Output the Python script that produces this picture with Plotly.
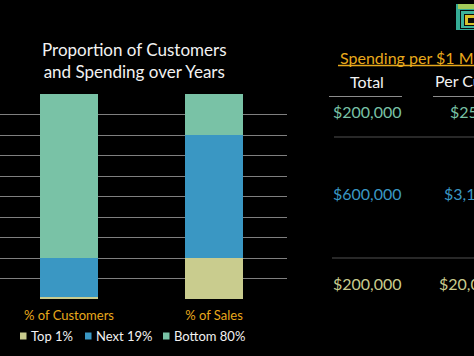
import plotly.graph_objects as go

categories = ["% of Customers", "% of Sales"]
series_names = ["Top 1%", "Next 19%", "Bottom 80%"]
top1 = [1, 20]
next19 = [19, 60]
bottom80 = [80, 20]
series_values = [top1, next19, bottom80]
colors = ["#C9CC8E", "#3A97C3", "#79C2A6"]

table_totals = ["$200,000", "$600,000", "$200,000"]
table_per_customer = ["$250", "$3,158", "$20,000"]
table_colors = ["#79C2A6", "#3A97C3", "#C9CC8E"]

W, H = 474, 356
L, R, T, B = 0, 187, 94, 57
PW, PH = W - L - R, H - T - B

def px(x):
    return (x - L) / PW

def py(y):
    return (H - B - y) / PH

FONT = "Lato, 'Open Sans', sans-serif"

fig = go.Figure()
for name, vals, col in zip(series_names, series_values, colors):
    fig.add_trace(go.Bar(x=categories, y=vals, name=name, marker_color=col,
                         marker_line_width=0, width=0.4, showlegend=False))

annotations = []
shapes = []

annotations.append(dict(text="Proportion of Customers<br>and Spending over Years",
                        x=px(134), y=py(60), xref="paper", yref="paper",
                        showarrow=False, font=dict(size=17, color="#F2F2F2", family=FONT),
                        xanchor="center", yanchor="middle", align="center"))

# legend (manual)
leg_x = [20, 85, 163]
for name, col, lx in zip(series_names, colors, leg_x):
    shapes.append(dict(type="rect", xref="paper", yref="paper",
                       x0=px(lx), x1=px(lx + 6.5), y0=py(339.5), y1=py(332.5),
                       fillcolor=col, line_width=0))
    annotations.append(dict(text=name, x=px(lx + 9), y=py(336), xref="paper", yref="paper",
                            showarrow=False, xanchor="left", yanchor="middle",
                            font=dict(size=13, color="#F2F2F2", family=FONT)))

# right-hand table
annotations.append(dict(text="Spending per $1 M", x=px(338), y=py(57), xref="paper", yref="paper",
                        showarrow=False, xanchor="left", yanchor="middle",
                        font=dict(size=16, color="#E8A91C", family=FONT)))
shapes.append(dict(type="line", xref="paper", yref="paper", x0=px(338), x1=px(480),
                   y0=py(65.5), y1=py(65.5), line=dict(color="#E8A91C", width=1.3)))
annotations.append(dict(text="Total", x=px(367), y=py(82), xref="paper", yref="paper",
                        showarrow=False, xanchor="center", yanchor="middle",
                        font=dict(size=16, color="#F2F2F2", family=FONT)))
annotations.append(dict(text="Per Customer", x=px(433), y=py(81), xref="paper", yref="paper",
                        showarrow=False, xanchor="left", yanchor="middle",
                        font=dict(size=16, color="#F2F2F2", family=FONT)))
shapes.append(dict(type="line", xref="paper", yref="paper", x0=px(329), x1=px(402),
                   y0=py(96.5), y1=py(96.5), line=dict(color="#8C8C8C", width=1)))
shapes.append(dict(type="line", xref="paper", yref="paper", x0=px(433), x1=px(480),
                   y0=py(96.5), y1=py(96.5), line=dict(color="#8C8C8C", width=1)))
shapes.append(dict(type="line", xref="paper", yref="paper", x0=px(334), x1=px(480),
                   y0=py(137), y1=py(137), line=dict(color="#505050", width=1)))
shapes.append(dict(type="line", xref="paper", yref="paper", x0=px(332), x1=px(480),
                   y0=py(258), y1=py(258), line=dict(color="#505050", width=1)))
row_y = [111, 193, 283]
for tot, per, col, ry in zip(table_totals, table_per_customer, table_colors, row_y):
    annotations.append(dict(text=tot, x=px(367), y=py(ry), xref="paper", yref="paper",
                            showarrow=False, xanchor="center", yanchor="middle",
                            font=dict(size=16, color=col, family=FONT)))
    annotations.append(dict(text=per, x=px(469), y=py(ry), xref="paper", yref="paper",
                            showarrow=False, xanchor="center", yanchor="middle",
                            font=dict(size=16, color=col, family=FONT)))

# corner logo (decorative)
logo = [(456, 4, 475, 30, "#35AB95"), (458, 4, 475, 9, "#A3CB5A"),
        (460, 10, 475, 29, "#0A0A0A"), (461, 11, 475, 28, "#3DB39B"),
        (464, 14, 475, 26, "#0A0A0A"), (465, 15, 475, 25, "#D8C12A"),
        (468, 18, 475, 23, "#0A0A0A")]
for x0, y0, x1, y1, c in logo:
    shapes.append(dict(type="rect", xref="paper", yref="paper", x0=px(x0), x1=px(x1),
                       y0=py(y1), y1=py(y0), fillcolor=c, line_width=0))

fig.update_layout(
    width=W, height=H, margin=dict(l=L, r=R, t=T, b=B, pad=0),
    paper_bgcolor="#000000", plot_bgcolor="#000000",
    barmode="stack",
    xaxis=dict(range=[-0.476, 1.503], showgrid=False, zeroline=False, showline=False,
               tickfont=dict(size=13, color="#E8A91C", family=FONT), ticks="",
               ticklabelstandoff=7),
    yaxis=dict(range=[0, 100], dtick=10, showticklabels=False, showgrid=True,
               gridcolor="#7F7F7F", gridwidth=1, zeroline=False, showline=False),
    annotations=annotations, shapes=shapes,
)

fig.write_html("out.html", config={"displayModeBar": False},
               post_script="document.body.style.margin='0';document.body.style.background='#000';document.body.style.overflow='hidden';")
